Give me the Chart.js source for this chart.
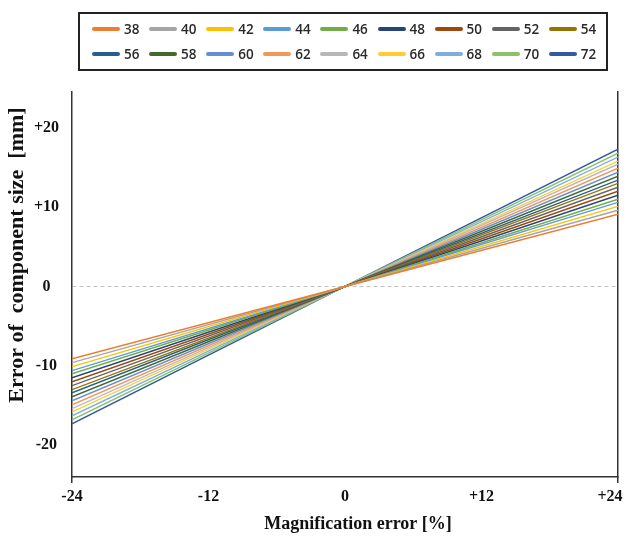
<!DOCTYPE html>
<html>
<head>
<meta charset="utf-8">
<script src="https://cdn.jsdelivr.net/npm/chart.js@4.4.0/dist/chart.umd.min.js"></script>
<style>
  body { margin: 0; background: #fff; }
  #wrap { position: relative; width: 628px; height: 538px; }
  #legend { position: absolute; left: 78px; top: 12px; width: 530px; height: 59px; box-sizing: border-box; border: 2px solid #222; }
  .item { position: absolute; height: 20px; display: flex; align-items: center; font: 600 13.5px "Open Sans", sans-serif; color: #2a2a2a; }
  .swatch { display: inline-block; width: 28px; height: 3.5px; border-radius: 2px; margin-right: 4px; }
</style>
</head>
<body>
<div id="wrap">
  <canvas id="chart" width="628" height="538"></canvas>
  <div id="legend"></div>
</div>
<script>
// component sizes (legend labels)
const sizes = [38, 40, 42, 44, 46, 48, 50, 52, 54, 56, 58, 60, 62, 64, 66, 68, 70, 72];
const colors = ['#ED7D31', '#A5A5A5', '#FFC000', '#5B9BD5', '#70AD47', '#264478', '#9E480E', '#636363', '#997300',
                '#255E91', '#43682B', '#698ED0', '#F1975A', '#B7B7B7', '#FFCD33', '#7CAFDD', '#8CC168', '#335AA1'];

// magnification error [%] where each line is read
const magnification = [-24, 0, 24];

// error of component size [mm] read at -24%, 0% and +24%
const errorAtMinus24 = [-9.1, -9.6, -10.1, -10.6, -11.0, -11.5, -12.0, -12.5, -13.0,
                        -13.4, -13.9, -14.4, -14.9, -15.4, -15.8, -16.3, -16.8, -17.3];
const errorAtZero = [0, 0, 0, 0, 0, 0, 0, 0, 0, 0, 0, 0, 0, 0, 0, 0, 0, 0];
const errorAtPlus24 = [9.1, 9.6, 10.1, 10.6, 11.0, 11.5, 12.0, 12.5, 13.0,
                       13.4, 13.9, 14.4, 14.9, 15.4, 15.8, 16.3, 16.8, 17.3];

const xTicks = [-24, -12, 0, 12, 24];
const yTicks = [-20, -10, 0, 10, 20];
const xTitle = 'Magnification error [%]';
const yTitle = 'Error of  component size  [mm]';

const datasets = sizes.map((s, i) => {
  const vals = [errorAtMinus24[i], errorAtZero[i], errorAtPlus24[i]];
  return {
    label: String(s),
    data: magnification.map((m, j) => ({ x: m, y: vals[j] })),
    borderColor: colors[i],
    backgroundColor: colors[i],
    borderWidth: 1.4,
    pointRadius: 0,
    fill: false,
    tension: 0
  };
});

const signed = v => (v > 0 ? '+' + v : String(v));
const tickFont = { family: '"Liberation Serif", serif', size: 16, weight: 'bold' };

// axis titles drawn where the reference has them
const axisTitles = {
  id: 'axisTitles',
  afterDraw(chart) {
    const ctx = chart.ctx;
    const area = chart.chartArea;
    ctx.save();
    ctx.fillStyle = '#111';
    ctx.textAlign = 'center';
    ctx.textBaseline = 'middle';
    ctx.font = 'bold 18px "Liberation Serif"';
    ctx.fillText(xTitle, (area.left + area.right) / 2 + 13, 524);
    ctx.translate(17, 255);
    ctx.rotate(-Math.PI / 2);
    ctx.font = 'bold 22px "Liberation Serif"';
    ctx.fillText(yTitle, 0, 0);
    ctx.restore();
  }
};

const chart = new Chart(document.getElementById('chart').getContext('2d'), {
  type: 'line',
  data: { datasets },
  plugins: [axisTitles],
  options: {
    responsive: false,
    animation: false,
    layout: { padding: { top: 92, left: 0, right: 0, bottom: 0 } },
    plugins: { legend: { display: false }, tooltip: { enabled: false } },
    scales: {
      x: {
        type: 'linear',
        min: -24,
        max: 24,
        afterBuildTicks: scale => { scale.ticks = xTicks.map(v => ({ value: v })); },
        afterFit: scale => {
          scale.height = 61;
          scale.paddingLeft = 0;
          scale.paddingRight = 0;
        },
        // last label is pulled inside the canvas like in the original
        ticks: {
          callback: v => (v === 24 ? signed(v) + '\u2002\u2002' : signed(v)),
          font: tickFont, color: '#111', padding: 4, maxRotation: 0
        },
        grid: {
          drawOnChartArea: false,
          tickLength: 6,
          color: ctx => (ctx.tick && Math.abs(ctx.tick.value) === 24 ? '#333' : 'rgba(0,0,0,0)'),
          lineWidth: 1.5
        },
        border: { color: '#333', width: 1.5 }
      },
      y: {
        type: 'linear',
        min: -24,
        max: 24.5,
        afterBuildTicks: scale => { scale.ticks = yTicks.map(v => ({ value: v })); },
        afterFit: scale => { scale.width = 72; },
        ticks: { callback: signed, font: tickFont, color: '#111', padding: 13, crossAlign: 'center' },
        grid: {
          drawTicks: false,
          color: ctx => (ctx.tick && ctx.tick.value === 0 ? '#c4c4c4' : 'rgba(0,0,0,0)'),
          lineWidth: 1
        },
        border: { color: '#333', width: 1.5, dash: [4, 3] }
      },
      y2: {
        type: 'linear',
        position: 'right',
        min: -24,
        max: 24.5,
        afterFit: scale => { scale.width = 10; },
        ticks: { display: false },
        grid: { display: false },
        border: { color: '#333', width: 1.5 }
      }
    }
  }
});

// html legend built from the chart's datasets, 9 per row
const legendEl = document.getElementById('legend');
chart.data.datasets.forEach((ds, i) => {
  const row = Math.floor(i / 9), col = i % 9;
  const item = document.createElement('div');
  item.className = 'item';
  item.style.left = (12 + col * 57.1) + 'px';
  item.style.top = (5 + row * 25) + 'px';
  const sw = document.createElement('span');
  sw.className = 'swatch';
  sw.style.background = ds.borderColor;
  item.appendChild(sw);
  item.appendChild(document.createTextNode(ds.label));
  legendEl.appendChild(item);
});
</script>
</body>
</html>
